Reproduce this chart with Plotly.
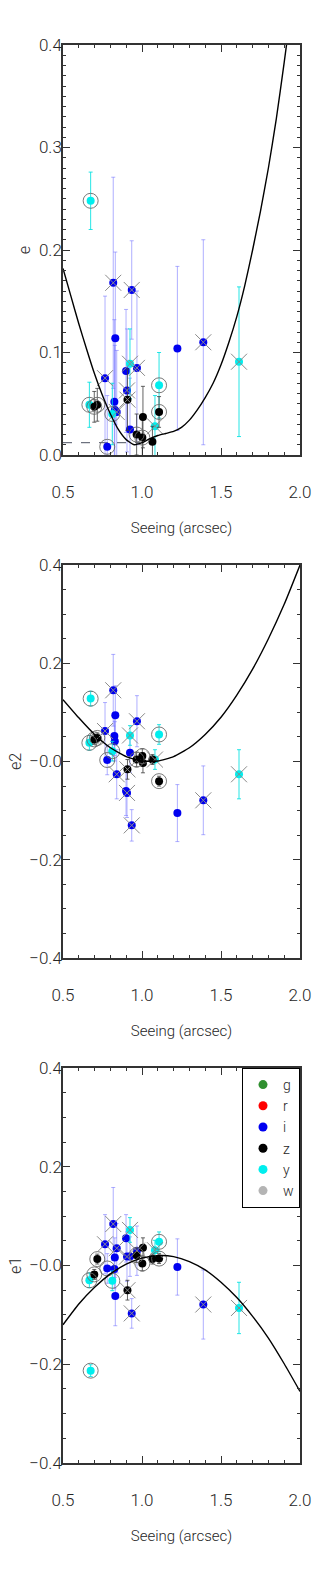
import plotly.graph_objects as go

# ---------------- data ----------------
band = ["y", "y", "z", "z", "i", "i", "i", "i", "y", "i",
        "i", "i", "z", "i", "i", "i", "y", "i", "i", "z",
        "z", "z", "z", "y", "y", "z", "i", "i", "y"]
seeing = [0.675, 0.667, 0.698, 0.717, 0.766, 0.818, 0.831, 0.780, 0.812, 0.825,
          0.828, 0.840, 0.908, 0.899, 0.905, 0.935, 0.924, 0.924, 0.968, 0.966,
          1.002, 1.006, 1.066, 1.082, 1.108, 1.108, 1.224, 1.388, 1.614]
e_val = [0.248, 0.049, 0.047, 0.049, 0.075, 0.168, 0.114, 0.008, 0.040, 0.052,
         0.044, 0.042, 0.054, 0.082, 0.063, 0.161, 0.089, 0.025, 0.085, 0.020,
         0.017, 0.037, 0.013, 0.028, 0.068, 0.042, 0.104, 0.110, 0.091]
e_err = [0.028, 0.022, 0.015, 0.016, 0.080, 0.103, 0.084, 0.050, 0.030, 0.080,
         0.063, 0.060, 0.030, 0.060, 0.060, 0.048, 0.034, 0.050, 0.075, 0.020,
         0.020, 0.030, 0.015, 0.030, 0.032, 0.015, 0.080, 0.100, 0.073]
e2_val = [0.128, 0.038, 0.045, 0.048, 0.062, 0.145, 0.094, 0.003, 0.021, 0.052,
          0.041, -0.026, -0.016, -0.060, -0.064, -0.130, 0.053, 0.018, 0.082, 0.004,
          0.011, -0.003, 0.004, 0.004, 0.055, -0.040, -0.105, -0.079, -0.026]
e2_err = [0.015, 0.015, 0.010, 0.010, 0.058, 0.073, 0.060, 0.030, 0.020, 0.040,
          0.040, 0.050, 0.020, 0.050, 0.050, 0.032, 0.020, 0.040, 0.052, 0.015,
          0.015, 0.020, 0.010, 0.020, 0.020, 0.010, 0.058, 0.070, 0.050]
e1_val = [-0.213, -0.030, -0.018, 0.013, 0.043, 0.084, -0.062, -0.006, -0.031, -0.007,
          0.016, 0.035, -0.050, 0.055, 0.018, -0.097, 0.072, 0.018, 0.030, 0.021,
          0.004, 0.036, 0.013, 0.031, 0.048, 0.014, -0.003, -0.079, -0.086]
e1_err = [0.012, 0.015, 0.010, 0.010, 0.060, 0.074, 0.060, 0.030, 0.020, 0.040,
          0.040, 0.050, 0.020, 0.048, 0.050, 0.030, 0.025, 0.040, 0.050, 0.015,
          0.015, 0.020, 0.010, 0.020, 0.020, 0.010, 0.057, 0.070, 0.052]
ringed = [1, 1, 1, 1, 0, 0, 0, 1, 1, 0,
          0, 0, 0, 0, 0, 0, 0, 0, 0, 1,
          1, 0, 0, 0, 1, 1, 0, 0, 0]
crossed = [0, 0, 0, 0, 1, 1, 0, 0, 0, 0,
           0, 1, 1, 0, 1, 1, 1, 0, 1, 0,
           0, 0, 0, 1, 0, 0, 0, 1, 1]

# fitted curves
fit_e_x = [0.50, 0.55, 0.60, 0.65, 0.70, 0.75, 0.80, 0.85, 0.90, 0.95, 1.00, 1.05,
           1.10, 1.15, 1.20, 1.25, 1.30, 1.35, 1.40, 1.45, 1.50, 1.55, 1.60, 1.65,
           1.70, 1.75, 1.80, 1.85, 1.90, 1.93]
fit_e_y = [0.182, 0.155, 0.128, 0.103, 0.079, 0.058, 0.040, 0.025, 0.015, 0.010, 0.012, 0.016,
           0.019, 0.021, 0.023, 0.027, 0.034, 0.044, 0.056, 0.070, 0.088, 0.110, 0.135, 0.165,
           0.200, 0.238, 0.280, 0.328, 0.383, 0.418]
fit_e2_x = [0.5, 0.6, 0.7, 0.8, 0.9, 1.0, 1.1, 1.2, 1.3, 1.4, 1.5, 1.6, 1.7, 1.8, 1.9, 2.0]
fit_e2_y = [0.126, 0.089, 0.055, 0.028, 0.010, 0.001, 0.001, 0.010, 0.028, 0.055, 0.090,
            0.135, 0.188, 0.250, 0.320, 0.400]
fit_e1_x = [0.5, 0.6, 0.7, 0.8, 0.9, 1.0, 1.1, 1.2, 1.3, 1.4, 1.5, 1.6, 1.7, 1.8, 1.9, 2.0]
fit_e1_y = [-0.120, -0.078, -0.044, -0.017, 0.003, 0.015, 0.020, 0.018, 0.008, -0.009,
            -0.034, -0.065, -0.103, -0.147, -0.199, -0.255]
dash_x = [0.5, 0.99]
dash_y = [0.012, 0.012]

legend_bands = ["g", "r", "i", "z", "y", "w"]
band_colors = {"g": "#2f8f2f", "r": "#ff0000", "i": "#0000f0", "z": "#000000",
               "y": "#00eeee", "w": "#b4b4b4"}
err_colors = {"i": "rgba(110,110,255,0.55)", "z": "rgba(60,60,60,0.8)",
              "y": "rgba(0,225,225,0.85)"}

# ---------------- figure ----------------
FONT = "Roboto, Liberation Sans Narrow, sans-serif"
TXT = "#262626"
fig = go.Figure()

panels = [("x", "y", e_val, e_err, fit_e_x, fit_e_y),
          ("x2", "y2", e2_val, e2_err, fit_e2_x, fit_e2_y),
          ("x3", "y3", e1_val, e1_err, fit_e1_x, fit_e1_y)]

for xa, ya, vals, errs, fx, fy in panels:
    if xa == "x":
        fig.add_trace(go.Scatter(x=dash_x, y=dash_y, mode="lines", xaxis=xa, yaxis=ya,
                                 line=dict(color="#4a5060", width=1, dash="dash"),
                                 showlegend=False, hoverinfo="skip"))
    for b in ["i", "y", "z"]:
        idx = [k for k in range(len(band)) if band[k] == b]
        fig.add_trace(go.Scatter(
            x=[seeing[k] for k in idx], y=[vals[k] for k in idx],
            error_y=dict(type="data", array=[errs[k] for k in idx],
                         color=err_colors[b], thickness=1, width=2),
            mode="markers", xaxis=xa, yaxis=ya, showlegend=False,
            marker=dict(color=band_colors[b], size=8, line=dict(width=0))))
    ridx = [k for k in range(len(band)) if ringed[k]]
    fig.add_trace(go.Scatter(
        x=[seeing[k] for k in ridx], y=[vals[k] for k in ridx], mode="markers",
        xaxis=xa, yaxis=ya, showlegend=False, hoverinfo="skip",
        marker=dict(symbol="circle-open", size=15, color="#6a6a6a", line=dict(width=0.9))))
    cidx = [k for k in range(len(band)) if crossed[k]]
    fig.add_trace(go.Scatter(
        x=[seeing[k] for k in cidx], y=[vals[k] for k in cidx], mode="markers",
        xaxis=xa, yaxis=ya, showlegend=False, hoverinfo="skip",
        marker=dict(symbol="x-thin-open", size=16, color="#8a8a8a", line=dict(width=1))))
    fig.add_trace(go.Scatter(x=fx, y=fy, mode="lines", xaxis=xa, yaxis=ya,
                             line=dict(color="black", width=1.4, shape="spline", smoothing=0.5),
                             showlegend=False, hoverinfo="skip"))

for b in legend_bands:
    fig.add_trace(go.Scatter(x=[None], y=[None], mode="markers", name=b,
                             xaxis="x3", yaxis="y3",
                             marker=dict(color=band_colors[b], size=9)))

# geometry: plot areas in pixels
W, H = 315, 1574
ml, mr, mt, mb = 63, 15, 45, 111
ph = H - mt - mb
def dom(top_px, bot_px):
    return [(H - mb - bot_px) / ph, (H - mb - top_px) / ph]

doms = [dom(45, 455), dom(565, 958), dom(1068, 1463)]

def xaxis_cfg(anchor):
    return dict(anchor=anchor, domain=[0, 1], range=[0.5, 2.0],
                tickmode="linear", tick0=0.5, dtick=0.5, tickformat=".1f",
                ticks="inside", ticklen=7, tickwidth=1.2, tickcolor="#333",
                minor=dict(tick0=0.5, dtick=0.1, ticks="inside", ticklen=3.5,
                           tickwidth=1, tickcolor="#333"),
                showline=True, linecolor="#333", linewidth=1.5, mirror="ticks",
                showgrid=False, zeroline=False, automargin=False,
                ticklabelstandoff=21,
                tickfont=dict(family=FONT, size=17, color=TXT, weight=300),
                title=dict(text="Seeing (arcsec)", standoff=21,
                           font=dict(family=FONT, size=15, color=TXT, weight=300)))

def yaxis_cfg(anchor, domain, title, rng, dtick, minor_dtick, alias):
    d = dict(anchor=anchor, domain=domain, range=rng,
             tickmode="linear", tick0=0, dtick=dtick, tickformat=".1f",
             ticks="inside", ticklen=7, tickwidth=1.2, tickcolor="#333",
             minor=dict(tick0=0, dtick=minor_dtick, ticks="inside", ticklen=3.5,
                        tickwidth=1, tickcolor="#333"),
             showline=True, linecolor="#333", linewidth=1.5, mirror="ticks",
             showgrid=False, zeroline=False, automargin=False,
             ticklabelstandoff=-4,
             tickfont=dict(family=FONT, size=17, color=TXT, weight=300),
             title=dict(text=title, standoff=4,
                        font=dict(family=FONT, size=16, color=TXT, weight=300)))
    if alias:
        d["labelalias"] = alias
    return d

fig.update_layout(
    width=W, height=H,
    margin=dict(l=ml, r=mr, t=mt, b=mb, pad=0),
    paper_bgcolor="white", plot_bgcolor="white",
    showlegend=True,
    legend=dict(x=1, xanchor="right", y=doms[2][1], yanchor="top",
                bordercolor="black", borderwidth=1, bgcolor="white",
                font=dict(family=FONT, size=14, color=TXT, weight=300),
                itemwidth=30, tracegroupgap=0),
    xaxis=xaxis_cfg("y"),
    xaxis2=xaxis_cfg("y2"),
    xaxis3=xaxis_cfg("y3"),
    yaxis=yaxis_cfg("x", doms[0], "e", [0, 0.4], 0.1, 0.01, None),
    yaxis2=yaxis_cfg("x2", doms[1], "e2", [-0.4, 0.4], 0.2, 0.05, {"0.0": "\u22120.0"}),
    yaxis3=yaxis_cfg("x3", doms[2], "e1", [-0.4, 0.4], 0.2, 0.05, {"0.0": "\u22120.0"}),
)

fig.write_html("out.html",
               config={"displayModeBar": False},
               post_script="document.body.style.margin='0';"
                           "document.documentElement.style.overflow='hidden';")
